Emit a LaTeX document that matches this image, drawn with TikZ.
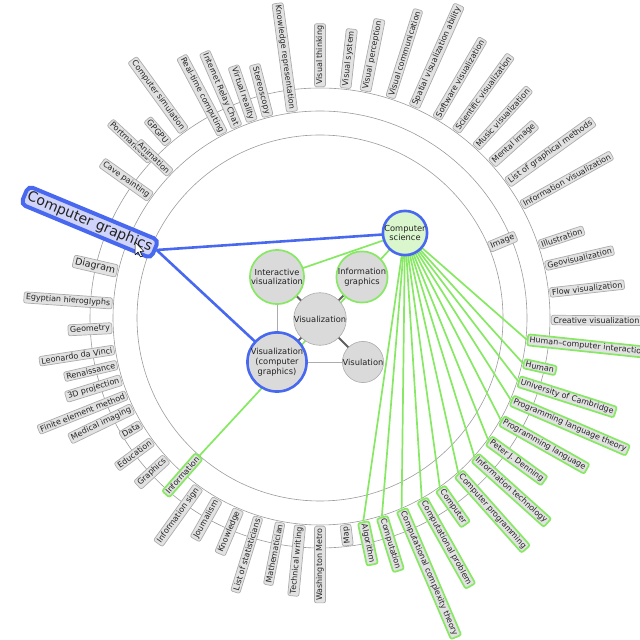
\documentclass[tikz,border=0pt]{standalone}
\usepackage{fontspec}
\setmainfont{DejaVu Sans}
\pgfdeclarelayer{bg}
\pgfsetlayers{bg,main}
\definecolor{ringc}{RGB}{155,155,155}
\definecolor{boxfill}{RGB}{226,226,226}
\definecolor{boxdraw}{RGB}{172,172,172}
\definecolor{txt}{RGB}{35,35,35}
\definecolor{grn}{RGB}{135,232,100}
\definecolor{blu}{RGB}{72,104,240}
\definecolor{blufill}{RGB}{208,212,250}
\definecolor{csfill}{RGB}{218,246,205}
\definecolor{nodefill}{RGB}{218,218,218}
\definecolor{edgedark}{RGB}{95,95,95}
\tikzset{
  lbl/.style={draw=boxdraw, fill=boxfill, rounded corners=2pt, text=txt,
    font=\fontsize{8}{9}\selectfont, inner xsep=2pt, inner ysep=1.7pt, line width=0.7pt},
  glbl/.style={lbl, draw=grn, line width=1.7pt},
  vnode/.style={circle, fill=nodefill, draw=boxdraw, line width=0.6pt, minimum size=40pt,
    inner sep=0pt, align=center, text=txt, font=\fontsize{8.3}{9.8}\selectfont},
  gnode/.style={vnode, draw=grn, line width=1.7pt, minimum size=43pt},
  bnode/.style={vnode, draw=blu, line width=2.6pt, minimum size=45pt},
  ring/.style={draw=ringc, line width=0.6pt},
  gline/.style={draw=grn, line width=1.7pt},
  bline/.style={draw=blu, line width=2.6pt},
  dline/.style={draw=edgedark, line width=2pt},
  tline/.style={draw=boxdraw, line width=0.8pt}
}
\begin{document}
\begin{tikzpicture}[x=1pt,y=1pt]
\useasboundingbox (0,0) rectangle (640,640);
\clip (0,0) rectangle (640,640);
\coordinate (C) at (320,322);

% outer ring, reading outward
\foreach \a/\t [count=\i] in {-0.5/Creative visualization, 6.3/Flow visualization, 13/Geovisualization, 18.4/Illustration, 29.2/Information visualization, 35.8/List of graphical methods, 42/Mental image, 47.6/Music visualization, 54/Scientific visualization, 59.7/Software visualization, 66/Spatial visualization ability, 72.3/Visual communication, 78.7/Visual perception, 83.7/Visual system, 90/Visual thinking}
  {\node[lbl, anchor=west, rotate=\a] (oo\i) at ([shift={(\a:231)}]C) {\t};}

% outer ring, reading inward
\foreach \a/\t [count=\i] in {126/Computer simulation, 131/GPGPU, 137/Portmanteau}
  {\pgfmathsetmacro\rr{\a+180}
   \node[lbl, anchor=east, rotate=\rr] (oi\i) at ([shift={(\a:231)}]C) {\t};}

% middle ring, reading inward
\foreach \a/\t [count=\i] in {97.7/Knowledge representation, 104.5/Stereoscopy, 109/Virtual reality, 113.5/Internet Relay Chat, 117.9/Real-time computing, 136/Animation, 144.5/Cave painting, 176/Egyptian hieroglyphs, 182.8/Geometry, 188.8/Leonardo da Vinci, 193/Renaissance, 197.3/3D projection, 201.7/Finite element method, 205.8/Medical imaging, 210.7/Data, 216.3/Education, 222.5/Graphics, 234.3/Information sign, 240.5/Journalism, 247/Knowledge, 252.8/List of statisticians, 259/Mathematician, 264.5/Technical writing, 270/Washington Metro, 277/Map}
  {\pgfmathsetmacro\rr{\a+180}
   \node[lbl, anchor=east, rotate=\rr] (mi\i) at ([shift={(\a:208)}]C) {\t};}

\node[lbl, anchor=east, rotate=347, font=\fontsize{9.5}{11}\selectfont] (diagram) at ([shift={(167:208)}]C) {Diagram};

% green labels, reading outward
\foreach \a/\t [count=\i] in {-78/Algorithm, -72.7/Computation, -66.9/Computational complexity theory, -60.7/Computational problem, -54.8/Computer, -48.3/Computer programming, -42/Information technology, -36/Peter J. Denning, -29.5/Programming language, -23.3/Programming language theory, -17.7/University of Cambridge, -12.6/Human, -6/Human–computer interaction}
  {\node[glbl, anchor=west, rotate=\a] (g\i) at ([shift={(\a:208)}]C) {\t};}

% inner ring labels
\node[lbl, anchor=west, rotate=22.7] (image) at ([shift={(22.7:183)}]C) {Image};
\node[glbl, anchor=east, rotate=48.8] (info) at ([shift={(228.8:183)}]C) {Information};
\node[lbl, draw=blu, fill=blufill, line width=4pt, rounded corners=5pt, inner xsep=3.5pt, inner ysep=3pt,
      font=\fontsize{14}{16}\selectfont, anchor=east, rotate=-22.6] (cg) at ([shift={(157.4:177)}]C) {Computer graphics};

% central graph
\node[vnode, fill=csfill, draw=blu, line width=2.6pt, minimum size=44pt] (cs) at (405,407) {Computer\\science};
\node[gnode] (iv) at (277,363) {Interactive\\visualization};
\node[gnode] (ig) at (362,363) {Information\\graphics};
\node[vnode] (viz) at (320,321) {Visualization};
\node[vnode] (vln) at (363,278) {Visulation};
\node[bnode] (vcg) at (277,278) {Visualization\\(computer\\graphics)};

% mouse cursor
\draw[fill=white, draw=black, line width=0.5pt, line join=round] (135,398) -- ++(0,-13) -- ++(3,3) -- ++(2.5,-5) -- ++(2,1) -- ++(-2.5,4.5) -- ++(4,0) -- cycle;

\begin{pgfonlayer}{bg}
  \draw[ring] (C) circle[radius=183];
  \draw[ring] (C) circle[radius=207];
  \draw[ring] (C) circle[radius=230];
  \foreach \i in {1,...,13} {\draw[gline] (cs.center) -- (g\i.west);}
  \draw[gline] (cs.center) -- (info.east);
  \draw[gline] (cs.center) -- (iv.center);
  \draw[tline] (iv.center) -- (vcg.center);
  \draw[tline] (vcg.center) -- (vln.center);
  \draw[dline] (viz.center) -- (iv.center);
  \draw[dline] (viz.center) -- (ig.center);
  \draw[dline] (viz.center) -- (vcg.center);
  \draw[dline] (viz.center) -- (vln.center);
  \draw[bline] (cg.east) -- (cs.center);
  \draw[bline] (cg.east) -- (vcg.center);
\end{pgfonlayer}
\end{tikzpicture}
\end{document}
